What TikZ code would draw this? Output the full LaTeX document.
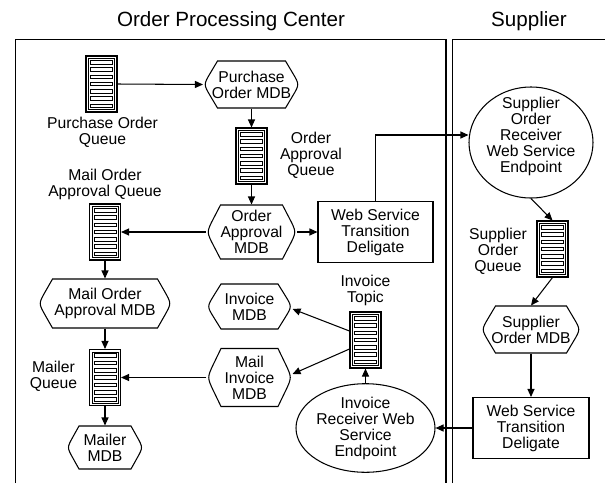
\documentclass[tikz,border=0pt]{standalone}
\usepackage{fontspec}
\setmainfont{Liberation Sans}
\usetikzlibrary{arrows.meta,shapes.geometric,calc}
\newcommand{\mdbnode}[7]{%
  \node[txt, minimum width=#4pt, minimum height=#5pt] (#1) at (#2,#3) {#7};
  \draw (#2+#4/2-#6,#3-#5/2) -- (#2-#4/2+#6,#3-#5/2)
    -- (#2-#4/2+#6*0.5,#3-#5/2*0.5) .. controls (#2-#4/2,#3) .. (#2-#4/2+#6*0.5,#3+#5/2*0.5)
    -- (#2-#4/2+#6,#3+#5/2) -- (#2+#4/2-#6,#3+#5/2)
    -- (#2+#4/2-#6*0.5,#3+#5/2*0.5) .. controls (#2+#4/2,#3) .. (#2+#4/2-#6*0.5,#3-#5/2*0.5)
    -- cycle;}
\begin{document}
\begin{tikzpicture}[x=1pt,y=-1pt,line width=1.05pt,
  txt/.style={font=\fontsize{15.7}{16}\selectfont, align=center, inner sep=0pt},
  ttl/.style={font=\fontsize{20.6}{24}\selectfont, inner sep=0pt},
  arr/.style={-{Triangle[length=8pt,width=7pt]}},
  rectbox/.style={txt, draw, rectangle},
  ellbox/.style={txt, draw, ellipse},
  queue/.style={draw, rectangle, minimum width=31pt, minimum height=56pt, inner sep=0pt,
    path picture={
      \draw[line width=0.75pt] ([shift={(-13pt,-25.5pt)}]path picture bounding box.center)
        rectangle ([shift={(13pt,25.5pt)}]path picture bounding box.center);
      \foreach \i in {0,...,6}{
        \draw[line width=0.75pt] ([shift={(-11pt,{20.05pt-\i*7.29pt})}]path picture bounding box.center)
          rectangle ++(22pt,3.6pt);
      }
    }}
]
\useasboundingbox (0,0) rectangle (605,483);

% frames and titles
\draw (15.7,483) -- (15.7,39.5) -- (446,39.5) -- (446,483);
\draw (452.5,483) -- (452.5,39.5) -- (605,39.5);
\node[ttl] (t1) at (231,21) {Order Processing Center};
\node[ttl] (t2) at (529,21) {Supplier};

% queues
\node[queue] (poq) at (101.5,84) {};
\node[queue] (oaq) at (251.5,156) {};
\node[queue] (moaq) at (105,232) {};
\node[queue] (mq) at (105,377.5) {};
\node[queue] (itq) at (365.5,340) {};
\node[queue] (soq) at (552.5,249) {};

% queue labels
\node[txt] (poql) at (102.5,132) {Purchase Order\\Queue};
\node[txt] (oaql) at (311,155.5) {Order\\Approval\\Queue};
\node[txt] (moaql) at (105,184) {Mail Order\\Approval Queue};
\node[txt] (mql) at (53.5,376) {Mailer\\Queue};
\node[txt] (soql) at (498,251) {Supplier\\Order\\Queue};
\node[txt] (itql) at (365.5,290.5) {Invoice\\Topic};

% MDBs
\mdbnode{pomdb}{251.5}{84.5}{96}{47}{14}{Purchase\\Order MDB}
\mdbnode{oamdb}{251.5}{232}{90}{54}{14}{Order\\Approval\\MDB}
\mdbnode{moamdb}{105}{303.5}{133}{49}{14}{Mail Order\\Approval MDB}
\mdbnode{invmdb}{249.5}{306.5}{85}{45}{14}{Invoice\\MDB}
\mdbnode{mimdb}{249.5}{377.5}{85}{58}{14}{Mail\\Invoice\\MDB}
\mdbnode{mailermdb}{105}{447.5}{76}{43}{12}{Mailer\\MDB}
\mdbnode{somdb}{531}{329.5}{99}{47}{14}{Supplier\\Order MDB}

% delegates
\node[rectbox, minimum width=115pt, minimum height=61pt] (wstd1) at (375.5,232) {Web Service\\Transition\\Deligate};
\node[rectbox, minimum width=116pt, minimum height=61pt] (wstd2) at (531,428) {Web Service\\Transition\\Deligate};

% endpoints
\node[draw, ellipse, minimum width=124pt, minimum height=111pt, inner sep=0pt] (sorwse) at (531,142.5) {};
\node[txt] (sorwset) at (531,136) {Supplier\\Order\\Receiver\\Web Service\\Endpoint};
\node[ellbox, minimum width=127pt, minimum height=80pt] (irwse) at (365.5,428) {Invoice\\Receiver Web\\Service\\Endpoint};

% connectors
\draw[arr] (poq.east) -- (pomdb.west);
\draw[arr] (pomdb.south) -- (oaq.north);
\draw[arr] (oaq.south) -- (oamdb.north);
\draw[arr] (oamdb.west) -- (moaq.east);
\draw[arr] (oamdb.east) -- (wstd1.west);
\draw[arr] (wstd1.north) |- ([yshift=7.5pt]sorwse.west);
\draw[arr] (sorwse.south) -- (soq.north);
\draw[arr] (soq.south) -- (somdb.north);
\draw[arr] (somdb.south) -- (wstd2.north);
\draw[arr] (wstd2.west) -- (irwse.east);
\draw[arr] (irwse.north) -- (itq.south);
\draw[arr] ([yshift=9pt]itq.west) -- ([yshift=-2.5pt]invmdb.east);
\draw[arr] ([yshift=-9pt]itq.west) -- ([yshift=3.5pt]mimdb.east);
\draw[arr] (mimdb.west) -- (mq.east);
\draw[arr] (moaq.south) -- (moamdb.north);
\draw[arr] (moamdb.south) -- (mq.north);
\draw[arr] (mq.south) -- (mailermdb.north);
\end{tikzpicture}
\end{document}
